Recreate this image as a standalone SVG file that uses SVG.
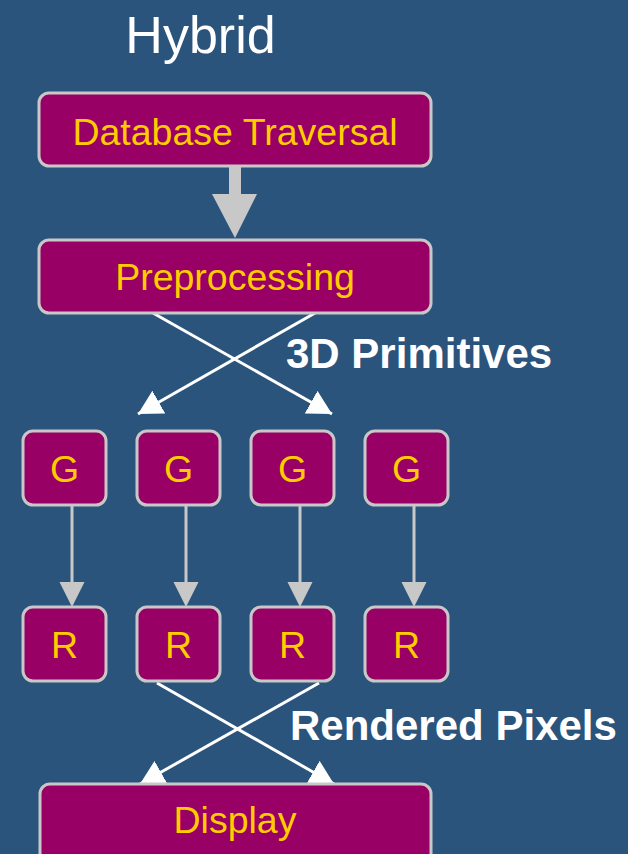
<svg xmlns="http://www.w3.org/2000/svg" width="628" height="854" viewBox="0 0 628 854">
<style>
.box{fill:#990066;stroke:#C8C8C8;stroke-width:3}
.lbl{font-family:"Liberation Sans",Arial,sans-serif;font-size:37.5px;fill:#FFCC00;text-anchor:middle}
.wt{font-family:"Liberation Sans",Arial,sans-serif;fill:#FFFFFF}
.x{stroke:#FFFFFF;stroke-width:3;fill:none;marker-end:url(#wh)}
.g{stroke:#C8C8C8;stroke-width:3;fill:none}
.gh{fill:#C8C8C8}
</style>
<defs>
<marker id="wh" markerUnits="userSpaceOnUse" markerWidth="30" markerHeight="30" refX="24" refY="13" orient="auto">
<path d="M0,0 L24,13 L0,26 Z" fill="#FFFFFF"/>
</marker>
</defs>
<rect width="628" height="854" fill="#2A547C"/>
<text class="wt" x="200.5" y="53" font-size="52" text-anchor="middle">Hybrid</text>

<g id="connectors">
<path class="g" d="M235,167 V196" style="stroke-width:12"/>
<polygon class="gh" points="212,194 257,194 235,238"/>
<line class="x" x1="153" y1="313" x2="332" y2="414"/>
<line class="x" x1="315" y1="313" x2="138" y2="414"/>
<line class="g" x1="72" y1="505" x2="72" y2="584"/>
<polygon class="gh" points="59.5,582 84.5,582 72,607"/>
<line class="g" x1="186" y1="505" x2="186" y2="584"/>
<polygon class="gh" points="173.5,582 198.5,582 186,607"/>
<line class="g" x1="300" y1="505" x2="300" y2="584"/>
<polygon class="gh" points="287.5,582 312.5,582 300,607"/>
<line class="g" x1="414" y1="505" x2="414" y2="584"/>
<polygon class="gh" points="401.5,582 426.5,582 414,607"/>
<line class="x" x1="157" y1="683" x2="334" y2="784"/>
<line class="x" x1="319" y1="683" x2="140" y2="784"/>
</g>
<text class="wt" x="286" y="368" font-size="42" font-weight="bold">3D Primitives</text>
<text class="wt" x="290" y="740" font-size="42" font-weight="bold">Rendered Pixels</text>

<g id="db"><rect class="box" x="39" y="93" width="392" height="73" rx="10"/><text class="lbl" x="235" y="145">Database Traversal</text></g>
<g id="pre"><rect class="box" x="39" y="240" width="392" height="73" rx="10"/><text class="lbl" x="235" y="290">Preprocessing</text></g>

<g id="g1"><rect class="box" x="23" y="431" width="83" height="74" rx="10"/><text class="lbl" x="64.5" y="482">G</text></g>
<g id="g2"><rect class="box" x="137" y="431" width="83" height="74" rx="10"/><text class="lbl" x="178.5" y="482">G</text></g>
<g id="g3"><rect class="box" x="251" y="431" width="83" height="74" rx="10"/><text class="lbl" x="292.5" y="482">G</text></g>
<g id="g4"><rect class="box" x="365" y="431" width="83" height="74" rx="10"/><text class="lbl" x="406.5" y="482">G</text></g>

<g id="r1"><rect class="box" x="23" y="607" width="83" height="74" rx="10"/><text class="lbl" x="64.5" y="658">R</text></g>
<g id="r2"><rect class="box" x="137" y="607" width="83" height="74" rx="10"/><text class="lbl" x="178.5" y="658">R</text></g>
<g id="r3"><rect class="box" x="251" y="607" width="83" height="74" rx="10"/><text class="lbl" x="292.5" y="658">R</text></g>
<g id="r4"><rect class="box" x="365" y="607" width="83" height="74" rx="10"/><text class="lbl" x="406.5" y="658">R</text></g>

<g id="display"><rect class="box" x="40" y="784" width="391" height="90" rx="10"/><text class="lbl" x="235" y="833">Display</text></g>
</svg>
